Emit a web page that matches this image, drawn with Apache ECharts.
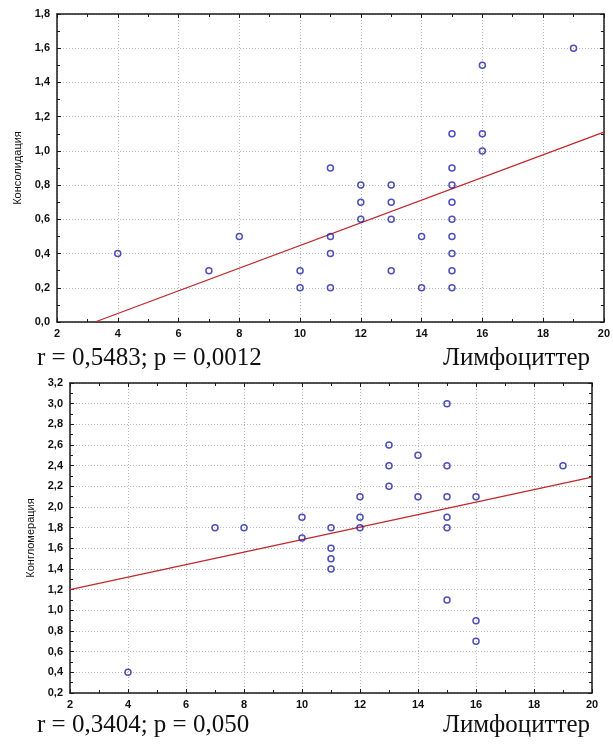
<!DOCTYPE html>
<html>
<head>
<meta charset="utf-8">
<script src="https://cdn.jsdelivr.net/npm/echarts@6/dist/echarts.min.js"></script>
<style>
html,body{margin:0;padding:0;background:#fff;}
#chart{width:613px;height:744px;}
</style>
</head>
<body>
<div id="chart"></div>
<script>
// ---- data ----
var xName = 'Лимфоциттер';
var topYName = 'Консолидация';
var bottomYName = 'Конгломерация';
var topStat = 'r = 0,5483; p = 0,0012';
var bottomStat = 'r = 0,3404; p = 0,050';

var xTickLabels = ['2','4','6','8','10','12','14','16','18','20'];
var topYTickLabels = ['0,0','0,2','0,4','0,6','0,8','1,0','1,2','1,4','1,6','1,8'];
var bottomYTickLabels = ['0,2','0,4','0,6','0,8','1,0','1,2','1,4','1,6','1,8','2,0','2,2','2,4','2,6','2,8','3,0','3,2'];

var topX = [4, 7, 8, 10, 10, 11, 11, 11, 11, 12, 12, 12, 13, 13, 13, 13, 14, 14, 15, 15, 15, 15, 15, 15, 15, 15, 15, 16, 16, 16, 19];
var topY = [0.4, 0.3, 0.5, 0.3, 0.2, 0.9, 0.5, 0.4, 0.2, 0.8, 0.7, 0.6, 0.8, 0.7, 0.6, 0.3, 0.5, 0.2, 1.1, 0.9, 0.8, 0.7, 0.6, 0.5, 0.4, 0.3, 0.2, 1.5, 1.1, 1.0, 1.6];
var topFitX = [3.25, 20];
var topFitY = [0, 1.11];

var bottomX = [4, 7, 8, 10, 10, 11, 11, 11, 11, 12, 12, 12, 13, 13, 13, 14, 14, 15, 15, 15, 15, 15, 15, 16, 16, 16, 19];
var bottomY = [0.4, 1.8, 1.8, 1.9, 1.7, 1.8, 1.6, 1.5, 1.4, 2.1, 1.9, 1.8, 2.6, 2.4, 2.2, 2.5, 2.1, 3.0, 2.4, 2.1, 1.9, 1.8, 1.1, 2.1, 0.9, 0.7, 2.4];
var bottomFitX = [2, 20];
var bottomFitY = [1.2, 2.29];

// ---- helpers ----
function zip(a, b) { return a.map(function (v, i) { return [v, b[i]]; }); }
function labelFrom(arr, min, step) {
  return function (v) { return arr[Math.round((v - min) / step)] || ''; };
}

var frame = { color: '#1a1a1a', width: 1.5 };
var tickStyle = { color: '#1a1a1a', width: 1 };
var gridLine = { type: [1, 2], color: '#b8b8b8', width: 1 };
var tickFont = { fontFamily: 'Liberation Sans, Arial, sans-serif', fontSize: 11, fontWeight: 'bold', color: '#111' };

function xAxes(gi) {
  return [
    {
      gridIndex: gi, type: 'value', position: 'bottom', min: 2, max: 20, interval: 2,
      axisLine: { show: true, onZero: false, lineStyle: frame },
      axisTick: { show: true, inside: true, length: 4, lineStyle: tickStyle },
      minorTick: { show: true, splitNumber: 2, length: 3, lineStyle: tickStyle },
      splitLine: { show: true, lineStyle: gridLine },
      axisLabel: Object.assign({ margin: 6, formatter: labelFrom(xTickLabels, 2, 2) }, tickFont)
    },
    {
      gridIndex: gi, type: 'value', position: 'top', min: 2, max: 20, interval: 2,
      axisLine: { show: true, onZero: false, lineStyle: frame },
      axisTick: { show: true, inside: true, length: 4, lineStyle: tickStyle },
      minorTick: { show: true, splitNumber: 2, length: 3, lineStyle: tickStyle },
      splitLine: { show: false },
      axisLabel: { show: false }
    }
  ];
}

function yAxes(gi, min, max, labels, name, nameGap) {
  return [
    {
      gridIndex: gi, type: 'value', position: 'left', min: min, max: max, interval: 0.2,
      name: name, nameLocation: 'middle', nameGap: nameGap, nameRotate: 90,
      nameTextStyle: { fontFamily: 'Liberation Sans, Arial, sans-serif', fontSize: 11, color: '#111' },
      axisLine: { show: true, onZero: false, lineStyle: frame },
      axisTick: { show: true, inside: true, length: 4, lineStyle: tickStyle },
      minorTick: { show: true, splitNumber: 2, length: 3, lineStyle: tickStyle },
      splitLine: { show: true, lineStyle: gridLine },
      axisLabel: Object.assign({ margin: 7, formatter: labelFrom(labels, min, 0.2) }, tickFont)
    },
    {
      gridIndex: gi, type: 'value', position: 'right', min: min, max: max, interval: 0.2,
      axisLine: { show: true, onZero: false, lineStyle: frame },
      axisTick: { show: true, inside: true, length: 4, lineStyle: tickStyle },
      minorTick: { show: true, splitNumber: 2, length: 3, lineStyle: tickStyle },
      splitLine: { show: false },
      axisLabel: { show: false }
    }
  ];
}

var marker = {
  type: 'scatter', symbol: 'circle', symbolSize: 6,
  itemStyle: { color: 'rgba(0,0,0,0)', borderColor: '#2323a6', borderWidth: 1.5 },
  z: 5, silent: true
};
var fitStyle = {
  type: 'line', showSymbol: false, symbol: 'none', silent: true, z: 3,
  lineStyle: { color: '#c0282d', width: 1.3 }
};

var statFont = { fontFamily: 'Liberation Serif, Times New Roman, serif', fontSize: 25, fontWeight: 'normal', color: '#111' };

var option = {
  backgroundColor: '#fff',
  animation: false,
  title: [
    { text: topStat, left: 32, top: 341, textStyle: statFont },
    { text: xName, right: 18, top: 341, textStyle: statFont },
    { text: bottomStat, left: 32, top: 708, textStyle: statFont },
    { text: xName, right: 18, top: 708, textStyle: statFont }
  ],
  grid: [
    { left: 57, top: 14, width: 551, height: 308, containLabel: false },
    { left: 70, top: 383, width: 522, height: 310, containLabel: false }
  ],
  xAxis: xAxes(0).concat(xAxes(1)),
  yAxis: yAxes(0, 0, 1.8, topYTickLabels, topYName, 34).concat(yAxes(1, 0.2, 3.2, bottomYTickLabels, bottomYName, 33)),
  series: [
    Object.assign({}, fitStyle, { xAxisIndex: 0, yAxisIndex: 0, data: zip(topFitX, topFitY) }),
    Object.assign({}, marker, { xAxisIndex: 0, yAxisIndex: 0, data: zip(topX, topY) }),
    Object.assign({}, fitStyle, { xAxisIndex: 2, yAxisIndex: 2, data: zip(bottomFitX, bottomFitY) }),
    Object.assign({}, marker, { xAxisIndex: 2, yAxisIndex: 2, data: zip(bottomX, bottomY) })
  ]
};

var chart = echarts.init(document.getElementById('chart'), null, { renderer: 'canvas' });
chart.setOption(option);
</script>
</body>
</html>
